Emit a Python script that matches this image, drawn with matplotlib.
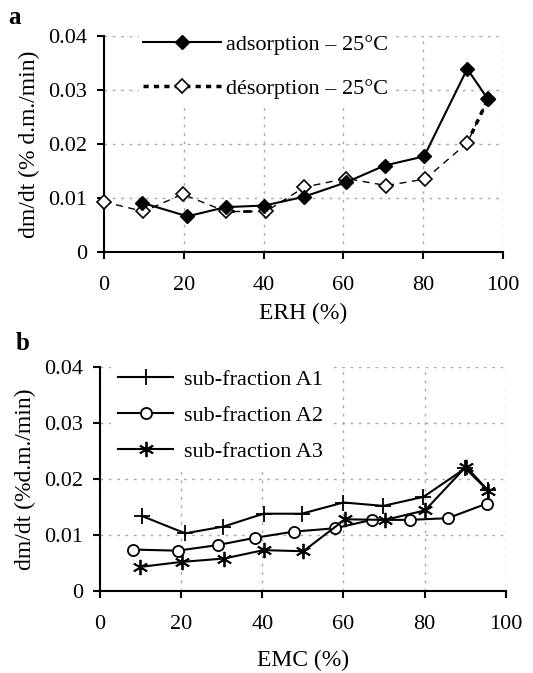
import matplotlib.pyplot as plt
from matplotlib.lines import Line2D

plt.rcParams['font.family'] = ['Liberation Serif', 'DejaVu Serif']

# panel a: drying rate vs ERH
ads_x = [9.6, 20.9, 30.5, 40.2, 50.0, 60.7, 70.3, 80.2, 91.0, 96.2]
ads_y = [0.0091, 0.0066, 0.0083, 0.0086, 0.0102, 0.0129, 0.0160, 0.0177, 0.0339, 0.0283]
des_x = [0.0, 9.9, 19.7, 30.5, 40.6, 50.2, 60.7, 70.7, 80.5, 91.0, 96.2]
des_y = [0.0093, 0.0075, 0.0107, 0.0075, 0.0075, 0.0120, 0.0136, 0.0123, 0.0135, 0.0202, 0.0283]

# panel b: sub-fractions vs EMC
a1_x = [10.3, 21.0, 30.4, 40.3, 49.7, 60.0, 69.8, 79.7, 90.0, 95.5]
a1_y = [0.0134, 0.0103, 0.0115, 0.0138, 0.0138, 0.0158, 0.0152, 0.0168, 0.0219, 0.0180]
a2_x = [8.2, 19.1, 29.0, 38.2, 47.7, 57.9, 67.0, 76.3, 85.7, 95.3]
a2_y = [0.0074, 0.0072, 0.0082, 0.0095, 0.0106, 0.0112, 0.0127, 0.0127, 0.0130, 0.0156]
a3_x = [9.9, 20.1, 30.6, 40.3, 50.1, 60.4, 70.3, 80.1, 90.2, 95.7]
a3_y = [0.0043, 0.0052, 0.0058, 0.0073, 0.0071, 0.0128, 0.0127, 0.0144, 0.0222, 0.0179]

x_ticks = [0, 20, 40, 60, 80, 100]
y_ticks = [0, 0.01, 0.02, 0.03, 0.04]
y_ticklabels = ['0', '0.01', '0.02', '0.03', '0.04']

FS = 16


def style_axes(ax, xlabel, ylabel, xlabelpad):
    ax.set_xlim(0, 100)
    ax.set_ylim(0, 0.04)
    ax.set_xticks(x_ticks)
    ax.set_yticks(y_ticks)
    ax.set_yticklabels(y_ticklabels)
    ax.spines['top'].set_visible(False)
    ax.spines['right'].set_visible(False)
    for s in ('left', 'bottom'):
        ax.spines[s].set_linewidth(1.5)
    ax.tick_params(direction='out', length=5, width=1.5, labelsize=FS)
    ax.tick_params(axis='x', pad=12)
    ax.tick_params(axis='y', pad=7)
    ax.grid(True, color='#aaaaaa', linestyle=(0, (2, 4)), linewidth=1)
    ax.set_axisbelow(True)
    ax.set_xlabel(xlabel, fontsize=17, labelpad=xlabelpad)
    ax.set_ylabel(ylabel, fontsize=17, labelpad=6)


fig = plt.figure(figsize=(5.33, 6.73), dpi=100)

# --- panel a ---
ax1 = fig.add_axes([0.195, 0.6256, 0.749, 0.321])
style_axes(ax1, 'ERH (%)', 'dm/dt (% d.m./min)', 6)
ax1.plot(des_x, des_y, color='black', linestyle=(0, (5, 4)), linewidth=1,
         marker='D', markersize=7, mfc='white', mec='black', mew=1.2, zorder=3, clip_on=False)
ax1.plot(des_x[-2:], des_y[-2:], color='black', linestyle=(0, (1.5, 1.5)), linewidth=2.5, zorder=2)
ax1.plot(des_x[3:5], des_y[3:5], color='black', linestyle=(0, (3, 3)), linewidth=2, zorder=2)
ax1.plot(ads_x, ads_y, color='black', linewidth=1.5,
         marker='D', markersize=7, mfc='black', mec='black', zorder=4, clip_on=False)
h_ads = Line2D([], [], color='black', linewidth=1.5, marker='D', markersize=7, mfc='black')
h_des = Line2D([], [], color='black', linestyle=(0, (1.5, 1.5)), linewidth=2.5,
               marker='D', markersize=7, mfc='white', mec='black', mew=1.2)
ax1.legend([h_ads, h_des], ['adsorption \u2013 25\u00b0C', 'd\u00e9sorption \u2013 25\u00b0C'],
           loc='upper left', bbox_to_anchor=(0.06, 1.08), fontsize=FS, handlelength=3.5,
           handletextpad=0.2, labelspacing=1.05, frameon=True, facecolor='white',
           edgecolor='none', framealpha=1, borderpad=0.2)
fig.text(0.015, 0.965, 'a', fontsize=18, fontweight='bold')

# --- panel b ---
ax2 = fig.add_axes([0.1876, 0.1218, 0.7614, 0.333])
style_axes(ax2, 'EMC (%)', 'dm/dt (%d.m./min)', 12)
ax2.plot(a1_x, a1_y, color='black', linewidth=1.5, marker='+', markersize=11, mew=1.3, clip_on=False)
ax2.plot(a2_x, a2_y, color='black', linewidth=1.5, marker='o', markersize=8, mfc='white',
         mec='black', mew=1.3, clip_on=False)
ax2.plot(a3_x, a3_y, color='black', linewidth=1.5, marker=(6, 2, 0), markersize=11, mew=1.3, clip_on=False)
ax2.legend(['sub-fraction A1', 'sub-fraction A2', 'sub-fraction A3'],
           loc='upper left', bbox_to_anchor=(0.0, 1.07), fontsize=FS, handlelength=2.5,
           handletextpad=0.5, labelspacing=0.7, frameon=True, facecolor='white',
           edgecolor='none', framealpha=1, borderpad=0.3)
fig.text(0.03, 0.48, 'b', fontsize=18, fontweight='bold')

fig.savefig('out.png', dpi=100)
